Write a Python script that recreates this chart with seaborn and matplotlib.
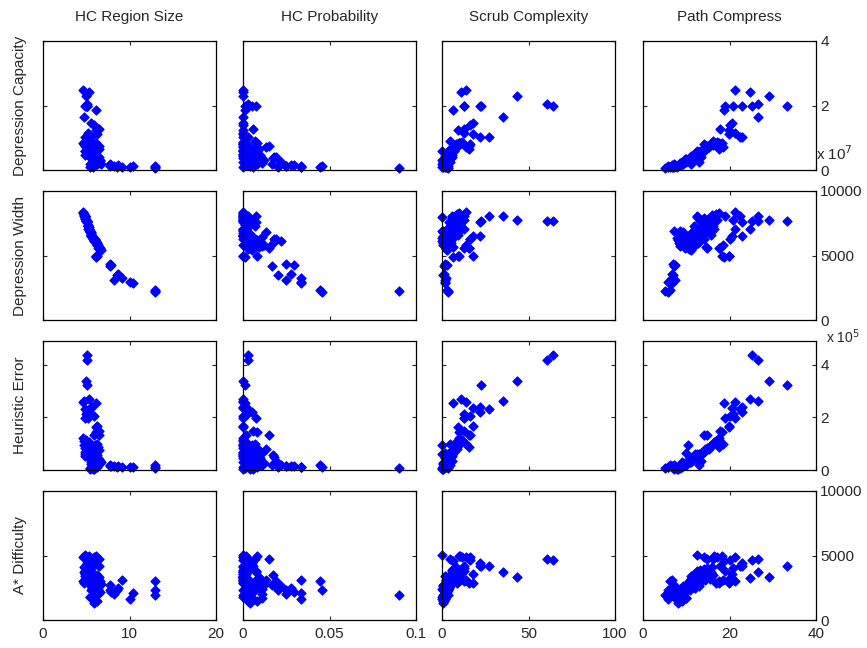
import numpy as np
import pandas as pd
import matplotlib
matplotlib.use("Agg")
import matplotlib.pyplot as plt
import seaborn as sns
from matplotlib.ticker import FuncFormatter

# --- data: one entry per problem instance (spread group, large-region group, main cluster)
region_size = [
    5.05, 5.10, 5.00, 5.05, 4.75, 6.13, 5.30, 4.60, 4.95, 5.05, 4.80, 5.60, 5.90, 6.45, 6.15, 6.20,
    5.60, 4.80, 5.20, 6.45, 5.90, 6.10, 6.40, 6.30,
    12.9, 12.9, 12.9, 10.1, 10.4, 9.1, 8.67, 8.5, 8.2, 7.7, 7.9, 7.7,
    5.90, 6.20, 5.40, 6.00, 5.70, 6.40, 6.35, 5.50, 6.60, 5.80, 6.10, 6.10, 6.60, 5.60, 6.30, 5.90,
    5.90, 5.50, 6.50, 5.20, 5.75, 6.05, 5.35, 4.80, 5.65, 6.20, 5.45, 5.00, 5.85, 6.00, 5.25, 5.10,
    5.55, 4.90, 5.40, 6.50, 5.15, 4.90, 5.05, 5.30, 5.60, 4.75, 5.00, 5.35, 4.70, 5.00, 4.65, 5.75,
    6.00, 4.85, 5.25, 6.05, 5.80, 6.70, 5.45,
]
hc_probability = [
    0.003, 0.003, 0.000, 0.001, 0.000, 0.001, 0.000, 0.000, 0.0025, 0.005, 0.0075, 0.000, 0.000, 0.0055, 0.000, 0.000,
    0.000, 0.003, 0.000, 0.0152, 0.002, 0.008, 0.004, 0.000,
    0.0904, 0.0445, 0.0455, 0.0338, 0.0338, 0.0338, 0.0275, 0.020, 0.025, 0.025, 0.0295, 0.0166,
    0.004, 0.008, 0.001, 0.003, 0.000, 0.011, 0.011, 0.002, 0.006, 0.005, 0.005, 0.009, 0.003, 0.000, 0.012, 0.008,
    0.007, 0.000, 0.004, 0.002, 0.018, 0.010, 0.000, 0.000, 0.006, 0.0172, 0.003, 0.000, 0.022, 0.019, 0.002, 0.000,
    0.004, 0.000, 0.0133, 0.0094, 0.001, 0.000, 0.0074, 0.003, 0.000, 0.000, 0.001, 0.002, 0.000, 0.000, 0.000, 0.006,
    0.005, 0.000, 0.007, 0.003, 0.011, 0.005, 0.000,
]
scrub_complexity = [
    64.0, 60.5, 43.2, 22.5, 35.5, 6.2, 11.0, 13.9, 12.9, 22.2, 12.9, 17.7, 16.2, 12.9, 9.4, 17.7,
    22.2, 27.0, 12.9, 15.8, 16.2, 10.0, 15.8, 13.9,
    3.3, 3.0, 3.6, 2.0, 1.5, 2.5, 1.0, 0.5, 2.0, 1.5, 2.8, 1.0,
    0.3, 0.8, 0.1, 1.5, 0.6, 2.0, 1.2, 0.3, 2.5, 1.8, 3.0, 1.0, 2.2, 3.5, 0.8, 4.0,
    2.8, 1.5, 3.8, 5.0, 3.2, 4.5, 2.5, 5.5, 4.2, 5.2, 3.6, 6.0, 4.8, 5.8, 7.0, 4.0,
    6.5, 5.5, 7.5, 6.2, 8.0, 7.0, 8.5, 6.8, 9.0, 8.2, 9.5, 10.5, 8.8, 11.5, 10.0, 0.0,
    0.2, 0.1, 4.5, 1.2, 2.0, 3.0, 0.5,
]
path_compress = [
    25.3, 26.7, 29.1, 33.3, 26.7, 18.8, 24.8, 21.3, 20.7, 22.9, 19.0, 20.5, 20.2, 17.8, 19.8, 19.8,
    23.0, 22.5, 21.2, 14.7, 14.0, 18.2, 17.5, 18.5,
    5.2, 6.2, 5.8, 5.8, 6.6, 6.6, 6.8, 6.9, 7.5, 7.0, 7.5, 7.2,
    8.0, 8.3, 8.5, 8.8, 9.0, 8.6, 9.5, 9.2, 9.8, 10.0, 10.3, 9.7, 10.6, 10.8, 10.2, 11.0,
    11.3, 11.1, 11.6, 11.8, 12.0, 12.2, 12.4, 12.6, 12.1, 12.8, 13.0, 13.2, 12.9, 13.4, 13.6, 13.8,
    14.0, 14.2, 14.4, 14.6, 14.8, 15.0, 15.3, 15.5, 15.7, 16.0, 16.2, 16.5, 16.8, 17.2, 17.5, 7.8,
    10.5, 12.5, 16.3, 9.0, 10.0, 11.0, 7.2,
]
dep_capacity_e7 = [
    2.00, 2.05, 2.28, 2.00, 1.63, 1.87, 2.42, 2.47, 2.00, 2.00, 2.00, 1.47, 1.39, 1.26, 1.24, 1.13,
    1.03, 1.03, 1.16, 0.75, 0.80, 0.85, 0.65, 0.70,
    0.07, 0.10, 0.12, 0.10, 0.12, 0.10, 0.15, 0.10, 0.12, 0.12, 0.15, 0.18,
    0.12, 0.18, 0.20, 0.15, 0.25, 0.22, 0.28, 0.20, 0.30, 0.25, 0.32, 0.35, 0.28, 0.38, 0.30, 0.40,
    0.36, 0.42, 0.40, 0.45, 0.40, 0.48, 0.50, 0.46, 0.52, 0.37, 0.55, 0.58, 0.25, 0.40, 0.60, 0.62,
    0.65, 0.60, 0.70, 0.66, 0.72, 0.75, 0.70, 0.78, 0.80, 0.82, 0.78, 0.85, 0.80, 0.86, 0.85, 0.10,
    0.30, 0.58, 0.90, 0.20, 0.35, 0.20, 0.08,
]
dep_width = [
    7680, 7700, 7760, 7680, 8100, 4870, 7050, 8340, 7760, 7630, 8030, 6500, 6260, 5580, 5000, 5000,
    6500, 8030, 7050, 5580, 6260, 5000, 5580, 5800,
    2240, 2300, 2200, 2950, 2900, 3290, 3600, 3470, 3100, 4340, 4260, 4210,
    6200, 6000, 6900, 6150, 6500, 5700, 5800, 6800, 5550, 6350, 6100, 6050, 5500, 6600, 5850, 6200,
    6250, 6750, 5650, 7300, 6300, 6100, 7000, 8050, 6450, 6000, 6850, 7650, 6100, 6300, 7250, 7600,
    6650, 7900, 6840, 5660, 7400, 7850, 7630, 7200, 6600, 8150, 7700, 7050, 8200, 7750, 8300, 6350,
    6150, 7950, 7300, 6100, 6400, 5450, 6900,
]
heuristic_error_e5 = [
    4.35, 4.18, 3.38, 3.23, 2.61, 2.54, 2.70, 2.60, 2.12, 2.22, 1.96, 2.35, 2.05, 1.47, 1.64, 1.66,
    2.41, 2.31, 1.96, 1.34, 1.32, 1.45, 0.86, 0.99,
    0.08, 0.18, 0.12, 0.12, 0.10, 0.12, 0.15, 0.10, 0.14, 0.15, 0.14, 0.20,
    0.05, 0.10, 0.08, 0.15, 0.12, 0.20, 0.18, 0.22, 0.25, 0.20, 0.30, 0.28, 0.35, 0.32, 0.25, 0.40,
    0.38, 0.45, 0.42, 0.48, 0.50, 0.46, 0.55, 0.52, 0.60, 0.58, 0.62, 0.56, 0.20, 0.35, 0.70, 0.65,
    0.72, 0.68, 0.78, 0.75, 0.82, 0.85, 0.80, 0.90, 0.92, 0.95, 1.00, 1.05, 1.10, 1.15, 1.20, 0.05,
    0.94, 0.60, 1.00, 0.30, 0.65, 0.30, 0.05,
]
astar_difficulty = [
    4660, 4740, 3370, 4160, 3740, 4600, 3290, 4870, 4030, 4420, 3800, 3600, 4680, 4160, 3160, 2900,
    4200, 4160, 3000, 4720, 4870, 5000, 2900, 3100,
    1960, 3000, 2350, 1650, 2090, 3130, 2480, 2350, 2000, 2350, 2200, 2700,
    1350, 1500, 1800, 2100, 1900, 2400, 2000, 2600, 2200, 1700, 2800, 2500, 3000, 2300, 2700, 3200,
    2900, 3400, 2600, 3600, 2800, 3100, 3300, 3800, 2500, 3500, 2900, 3900, 2600, 3000, 3700, 3300,
    3950, 3400, 3100, 3300, 4000, 3600, 3700, 3200, 3750, 4100, 3500, 4950, 2900, 4900, 3000, 1600,
    2400, 5060, 4750, 1450, 1700, 2800, 1800,
]

col_names = ["HC Region Size", "HC Probability", "Scrub Complexity", "Path Compress"]
row_names = ["Depression Capacity", "Depression Width", "Heuristic Error", "A* Difficulty"]

df = pd.DataFrame({
    "HC Region Size": region_size,
    "HC Probability": hc_probability,
    "Scrub Complexity": scrub_complexity,
    "Path Compress": path_compress,
    "Depression Capacity": np.array(dep_capacity_e7) * 1e7,
    "Depression Width": dep_width,
    "Heuristic Error": np.array(heuristic_error_e5) * 1e5,
    "A* Difficulty": astar_difficulty,
})

xlims = [(0, 20), (0, 0.1), (0, 100), (0, 40)]
xticks = [[0, 10, 20], [0, 0.05, 0.1], [0, 50, 100], [0, 20, 40]]
ylims = [(0, 4e7), (0, 10000), (0, 4.9e5), (0, 10000)]
yticks = [[0, 2e7, 4e7], [0, 5000, 10000], [0, 2e5, 4e5], [0, 5000, 10000]]
yscale = [1e7, 1, 1e5, 1]

sns.set_style("white")
plt.rcParams["font.family"] = ["Liberation Sans", "DejaVu Sans"]
plt.rcParams["font.size"] = 11

W, H = 867, 648
col_left = [43, 243, 442, 643]
row_top = [41, 191, 341, 491]
aw, ah = 173, 129

fig = plt.figure(figsize=(W / 100, H / 100), dpi=100)

for i, yv in enumerate(row_names):
    for j, xv in enumerate(col_names):
        ax = fig.add_axes([col_left[j] / W, 1 - (row_top[i] + ah) / H, aw / W, ah / H])
        sns.scatterplot(data=df, x=xv, y=yv, ax=ax, marker="D", s=22,
                        color="blue", edgecolor="blue", linewidth=0.8,
                        clip_on=False, legend=False)
        ax.set_xlim(xlims[j])
        ax.set_ylim(ylims[i])
        ax.set_xticks(xticks[j])
        ax.set_yticks(yticks[i])
        ax.xaxis.set_major_formatter(FuncFormatter(lambda v, p: "%g" % v))
        sc = yscale[i]
        ax.yaxis.set_major_formatter(FuncFormatter(lambda v, p, sc=sc: "%g" % (v / sc)))
        ax.tick_params(direction="in", length=3, width=0.8, labelsize=11,
                       top=True, right=True, left=True, bottom=True,
                       labelleft=False, labelright=(j == 3), labelbottom=(i == 3))
        ax.tick_params(axis="x", pad=5)
        ax.tick_params(axis="y", pad=3)
        ax.set_xlabel("")
        ax.set_ylabel("")
        for s in ax.spines.values():
            s.set_color("black")
            s.set_linewidth(0.9)

for j, name in enumerate(col_names):
    fig.text((col_left[j] + aw / 2) / W, 1 - 17 / H, name, ha="center", va="center", fontsize=11)
for i, name in enumerate(row_names):
    fig.text(20 / W, 1 - (row_top[i] + ah / 2) / H, name, rotation=90,
             ha="center", va="center", fontsize=11)

# axis multipliers, placed where the original figure shows them
fig.text(816 / W, 1 - 154 / H, r"x 10$^{7}$", ha="left", va="center", fontsize=11)
fig.text(826 / W, 1 - 337 / H, r"x 10$^{5}$", ha="left", va="center", fontsize=10)

fig.savefig("out.png", dpi=100)
